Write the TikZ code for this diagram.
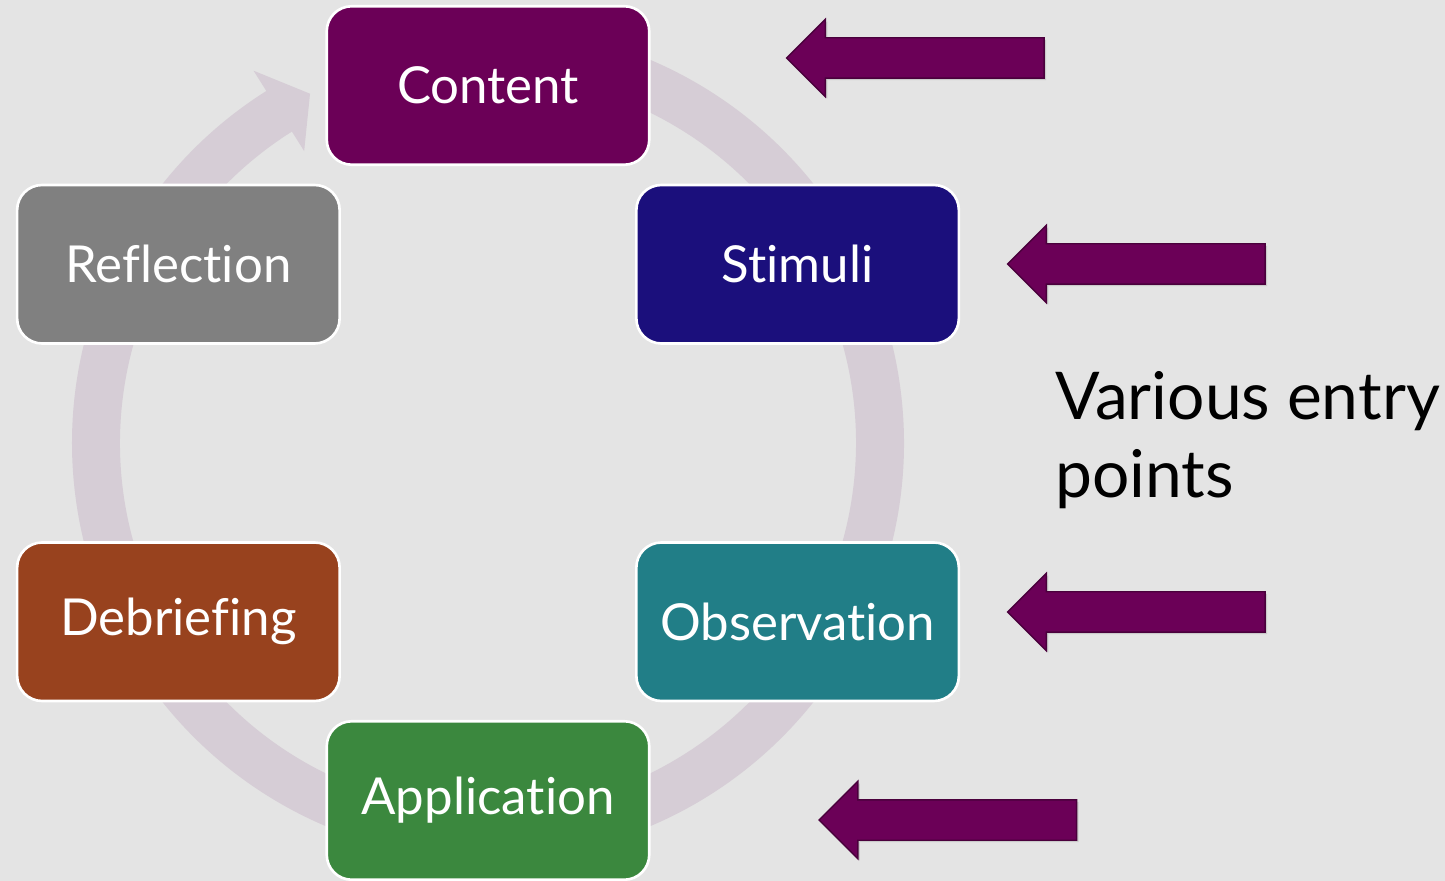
\documentclass[tikz,border=0pt]{standalone}
\usepackage{fontspec}
\setmainfont{Lato}[Ligatures=CommonOff]
\usetikzlibrary{shapes.arrows,shadows}

\definecolor{bggray}{HTML}{E4E4E4}
\definecolor{ringmauve}{HTML}{D6CDD6}
\definecolor{plum}{HTML}{6B0057}
\definecolor{plumdark}{HTML}{4A003C}
\definecolor{indigobox}{HTML}{1B0F7C}
\definecolor{graybox}{HTML}{808080}
\definecolor{rustbox}{HTML}{98421E}
\definecolor{tealbox}{HTML}{217E87}
\definecolor{leafbox}{HTML}{3B883E}

\begin{document}
\begin{tikzpicture}[
    stage/.style={draw=white, line width=1.5pt, rounded corners=0.5cm, minimum width=6.45cm, minimum height=3.17cm, text=white, font=\fontsize{29}{35}\selectfont},
    entry/.style={single arrow, shape border rotate=180, fill=plum, draw=plumdark, line width=0.8pt, minimum height=5.15cm, single arrow head extend=0.37cm, single arrow tip angle=90, inner xsep=0pt, inner ysep=0.39cm, drop shadow={opacity=0.25, shadow xshift=0.04cm, shadow yshift=-0.04cm}}
]
\fill[bggray] (-9.76,-8.76) rectangle (19.14,8.86);
\useasboundingbox (-9.76,-8.76) rectangle (19.14,8.86);

% cycle ring with its head just left of the top box
\fill[ringmauve] (95:8.32) arc[start angle=95, end angle=-237.8, radius=8.32]
    -- (-237.8:8.8) -- (-243:7.84) -- (-237.8:6.9) -- (-237.8:7.36)
    arc[start angle=-237.8, end angle=95, radius=7.36] -- cycle;

\node[stage, fill=plum] (content) at (90:7.15) {Content};
\node[stage, fill=indigobox] (stimuli) at (30:7.15) {Stimuli};
\node[stage, fill=tealbox] (observation) at (-30:7.15) {Observation};
\node[stage, fill=leafbox] (application) at (-90:7.15) {Application};
\node[stage, fill=rustbox] (debriefing) at (-150:7.15) {Debriefing};
\node[stage, fill=graybox] (reflection) at (150:7.15) {Reflection};

\node[entry] (entryC) at (8.75,7.70) {};
\node[entry] (entryS) at (13.17,3.58) {};
\node[entry] (entryO) at (13.17,-3.38) {};
\node[entry] (entryA) at (9.4,-7.54) {};

\node[anchor=west, align=left, inner sep=0pt, font=\fontsize{37.5}{44}\selectfont] (various) at (11.34,0.06) {Various entry\\points};
\end{tikzpicture}
\end{document}
